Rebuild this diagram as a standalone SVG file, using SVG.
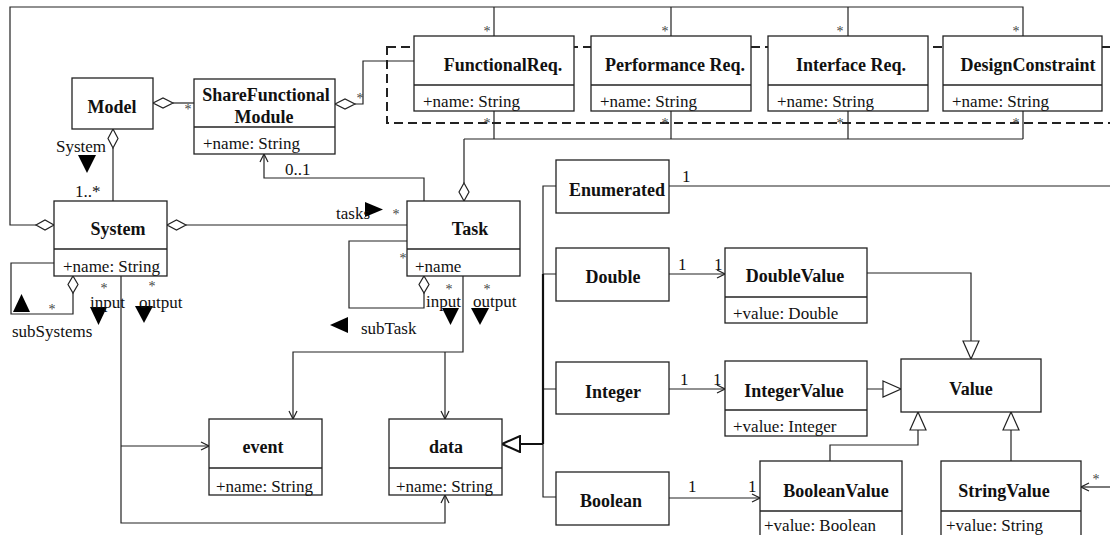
<svg xmlns="http://www.w3.org/2000/svg" width="1110" height="535" viewBox="0 0 1110 535" font-family="'Liberation Serif', 'Times New Roman', 'DejaVu Serif', serif">
<defs>
<style>
.box{fill:#fff;stroke:#222;stroke-width:1.3}
.dv{stroke:#222;stroke-width:1.3}
.ln{fill:none;stroke:#222;stroke-width:1.2}
.thick{fill:none;stroke:#111;stroke-width:2.2}
.dash{fill:none;stroke:#222;stroke-width:2;stroke-dasharray:9 5}
.dia{fill:#fff;stroke:#222;stroke-width:1.2}
.blk{fill:#000}
text{font-family:'Liberation Serif','Times New Roman','DejaVu Serif',serif}
.t{font-weight:bold;font-size:18px;fill:#111;text-anchor:middle}
.a{font-size:17px;fill:#111}
.l{font-size:17px;fill:#111}
.s{font-size:14px;fill:#444;text-anchor:middle}
</style>
<marker id="open" markerWidth="10" markerHeight="10" refX="9" refY="5" orient="auto" markerUnits="userSpaceOnUse"><path d="M1,1 L9,5 L1,9" fill="none" stroke="#222" stroke-width="1.2"/></marker>
<marker id="gen" markerWidth="20" markerHeight="18" refX="19" refY="9" orient="auto" markerUnits="userSpaceOnUse"><path d="M1,1 L19,9 L1,17 Z" fill="#fff" stroke="#222" stroke-width="1.2"/></marker>
<marker id="genb" markerWidth="20" markerHeight="18" refX="19" refY="9" orient="auto" markerUnits="userSpaceOnUse"><path d="M1,1 L19,9 L1,17 Z" fill="#fff" stroke="#111" stroke-width="2"/></marker>
</defs>
<rect width="1110" height="535" fill="#fff"/>

<rect class="dash" x="387" y="47" width="740" height="76"/>

<g id="connectors">
<path class="ln" d="M36,225 H10 V7 H1023 V36 M494,7 V36 M671,7 V36 M848,7 V36"/>
<path class="ln" d="M494,111 V139 M671,111 V139 M848,111 V139 M1023,111 V139 M464,139 H1023 M464,139 V183"/>
<path class="ln" d="M173,103 H194"/>
<path class="ln" d="M355,104 H363 V61 H414"/>
<path class="ln" d="M113,148 V201"/>
<path class="ln" d="M186,225 H407"/>
<path class="ln" d="M54,263 H11 V314 H73 V293"/>
<path class="ln" d="M424,201 V178 H264 V154" marker-end="url(#open)"/>
<path class="ln" d="M407,241 H349 V308 H424 V293"/>
<path class="ln" d="M463,276 V352 H293 V419" marker-end="url(#open)"/>
<path class="ln" d="M445,352 V419" marker-end="url(#open)"/>
<path class="ln" d="M121,276 V523 H445 V495" marker-end="url(#open)"/>
<path class="ln" d="M121,446 H209" marker-end="url(#open)"/>
<path class="ln" d="M556,186 H543 V497 H556 M543,274 H556 M543,389 H556 M669,186 H1110"/>
<path class="thick" d="M543,274 V444"/>
<path class="thick" d="M543,444 H502" marker-end="url(#genb)"/>
<path class="ln" d="M669,274 H725" marker-end="url(#open)"/>
<path class="ln" d="M669,389 H725" marker-end="url(#open)"/>
<path class="ln" d="M669,498 H760" marker-end="url(#open)"/>
<path class="ln" d="M867,273 H971 V359" marker-end="url(#gen)"/>
<path class="ln" d="M867,389 H901" marker-end="url(#gen)"/>
<path class="ln" d="M830,461 V445 H918 V412" marker-end="url(#gen)"/>
<path class="ln" d="M1011,461 V412" marker-end="url(#gen)"/>
<path class="ln" d="M1110,487 H1081" marker-end="url(#open)"/>

<polygon class="dia" points="153,103 163,98 173,103 163,108"/>
<polygon class="dia" points="335,104 345,99 355,104 345,109"/>
<polygon class="dia" points="113,129 118,138.5 113,148 108,138.5"/>
<polygon class="dia" points="54,225 45,220 36,225 45,230"/>
<polygon class="dia" points="167,225 176.5,220 186,225 176.5,230"/>
<polygon class="dia" points="73,276 78,284.5 73,293 68,284.5"/>
<polygon class="dia" points="464,183 469,192 464,201 459,192"/>
<polygon class="dia" points="424,276 429,284.5 424,293 419,284.5"/>

<polygon class="blk" points="78,155 96,155 87,173"/>
<polygon class="blk" points="365,202 383,209.5 365,217"/>
<polygon class="blk" points="13,312 30,312 21.5,294"/>
<polygon class="blk" points="90,307 107,307 98.5,325"/>
<polygon class="blk" points="135,306 153,306 144,323"/>
<polygon class="blk" points="348,317 348,333 330,325"/>
<polygon class="blk" points="442,308 459,308 450.5,325"/>
<polygon class="blk" points="471,308 489,308 480,325"/>

<text class="l" x="56" y="152">System</text>
<text class="l" x="75" y="197">1..*</text>
<text class="l" x="12" y="337">subSystems</text>
<text class="l" x="90" y="308">input</text>
<text class="l" x="139" y="308">output</text>
<text class="l" x="285" y="175">0..1</text>
<text class="l" x="336" y="219">tasks</text>
<text class="l" x="361" y="334">subTask</text>
<text class="l" x="426" y="307">input</text>
<text class="l" x="473" y="307">output</text>
<text class="l" x="682" y="182">1</text>
<text class="l" x="678" y="270">1</text>
<text class="l" x="714" y="270">1</text>
<text class="l" x="680" y="385">1</text>
<text class="l" x="713" y="385">1</text>
<text class="l" x="688" y="492">1</text>
<text class="l" x="748" y="492">1</text>

<text class="s" x="188" y="114">*</text>
<text class="s" x="360" y="103">*</text>
<text class="s" x="487" y="36">*</text>
<text class="s" x="665" y="36">*</text>
<text class="s" x="840" y="36">*</text>
<text class="s" x="1016" y="36">*</text>
<text class="s" x="487" y="128">*</text>
<text class="s" x="665" y="128">*</text>
<text class="s" x="840" y="128">*</text>
<text class="s" x="1016" y="128">*</text>
<text class="s" x="52" y="314">*</text>
<text class="s" x="104" y="293">*</text>
<text class="s" x="152" y="291">*</text>
<text class="s" x="396" y="219">*</text>
<text class="s" x="403" y="263">*</text>
<text class="s" x="449" y="294">*</text>
<text class="s" x="487" y="294">*</text>
<text class="s" x="1096" y="484">*</text>
</g>

<g id="Model"><rect class="box" x="72" y="78" width="81" height="51"/><text class="t" x="112" y="113">Model</text></g>
<g id="ShareFunctionalModule"><rect class="box" x="194" y="79" width="141" height="75"/><line class="dv" x1="194" y1="127" x2="335" y2="127"/><text class="t" x="266" y="101">ShareFunctional</text><text class="t" x="264" y="123">Module</text><text class="a" x="203" y="149">+name: String</text></g>
<g id="FunctionalReq"><rect class="box" x="414" y="36" width="160" height="75"/><line class="dv" x1="414" y1="85" x2="574" y2="85"/><text class="t" x="503" y="71">FunctionalReq.</text><text class="a" x="423" y="107">+name: String</text></g>
<g id="PerformanceReq"><rect class="box" x="591" y="36" width="160" height="75"/><line class="dv" x1="591" y1="85" x2="751" y2="85"/><text class="t" x="675" y="71">Performance Req.</text><text class="a" x="600" y="107">+name: String</text></g>
<g id="InterfaceReq"><rect class="box" x="768" y="36" width="160" height="75"/><line class="dv" x1="768" y1="85" x2="928" y2="85"/><text class="t" x="851" y="71">Interface Req.</text><text class="a" x="777" y="107">+name: String</text></g>
<g id="DesignConstraint"><rect class="box" x="943" y="36" width="159" height="75"/><line class="dv" x1="943" y1="85" x2="1102" y2="85"/><text class="t" x="1028" y="71">DesignConstraint</text><text class="a" x="952" y="107">+name: String</text></g>
<g id="System"><rect class="box" x="54" y="201" width="113" height="75"/><line class="dv" x1="54" y1="249" x2="167" y2="249"/><text class="t" x="118" y="235">System</text><text class="a" x="63" y="272">+name: String</text></g>
<g id="Task"><rect class="box" x="407" y="201" width="113" height="75"/><line class="dv" x1="407" y1="249" x2="520" y2="249"/><text class="t" x="470" y="235">Task</text><text class="a" x="415" y="272">+name</text></g>
<g id="event"><rect class="box" x="209" y="419" width="113" height="76"/><line class="dv" x1="209" y1="468" x2="322" y2="468"/><text class="t" x="263" y="453">event</text><text class="a" x="216" y="492">+name: String</text></g>
<g id="data"><rect class="box" x="389" y="419" width="113" height="76"/><line class="dv" x1="389" y1="468" x2="502" y2="468"/><text class="t" x="446" y="453">data</text><text class="a" x="396" y="492">+name: String</text></g>
<g id="Enumerated"><rect class="box" x="556" y="160" width="113" height="53"/><text class="t" x="617" y="196">Enumerated</text></g>
<g id="Double"><rect class="box" x="556" y="248" width="113" height="53"/><text class="t" x="613" y="283">Double</text></g>
<g id="Integer"><rect class="box" x="556" y="362" width="113" height="52"/><text class="t" x="613" y="398">Integer</text></g>
<g id="Boolean"><rect class="box" x="556" y="472" width="113" height="53"/><text class="t" x="611" y="507">Boolean</text></g>
<g id="DoubleValue"><rect class="box" x="725" y="248" width="142" height="75"/><line class="dv" x1="725" y1="297" x2="867" y2="297"/><text class="t" x="795" y="282">DoubleValue</text><text class="a" x="733" y="319">+value: Double</text></g>
<g id="IntegerValue"><rect class="box" x="725" y="361" width="142" height="75"/><line class="dv" x1="725" y1="410" x2="867" y2="410"/><text class="t" x="794" y="397">IntegerValue</text><text class="a" x="733" y="432">+value: Integer</text></g>
<g id="Value"><rect class="box" x="901" y="359" width="140" height="53"/><text class="t" x="971" y="395">Value</text></g>
<g id="BooleanValue"><rect class="box" x="760" y="461" width="142" height="80"/><line class="dv" x1="760" y1="511" x2="902" y2="511"/><text class="t" x="836" y="497">BooleanValue</text><text class="a" x="764" y="531">+value: Boolean</text></g>
<g id="StringValue"><rect class="box" x="941" y="461" width="140" height="80"/><line class="dv" x1="941" y1="511" x2="1081" y2="511"/><text class="t" x="1004" y="497">StringValue</text><text class="a" x="946" y="531">+value: String</text></g>
</svg>
